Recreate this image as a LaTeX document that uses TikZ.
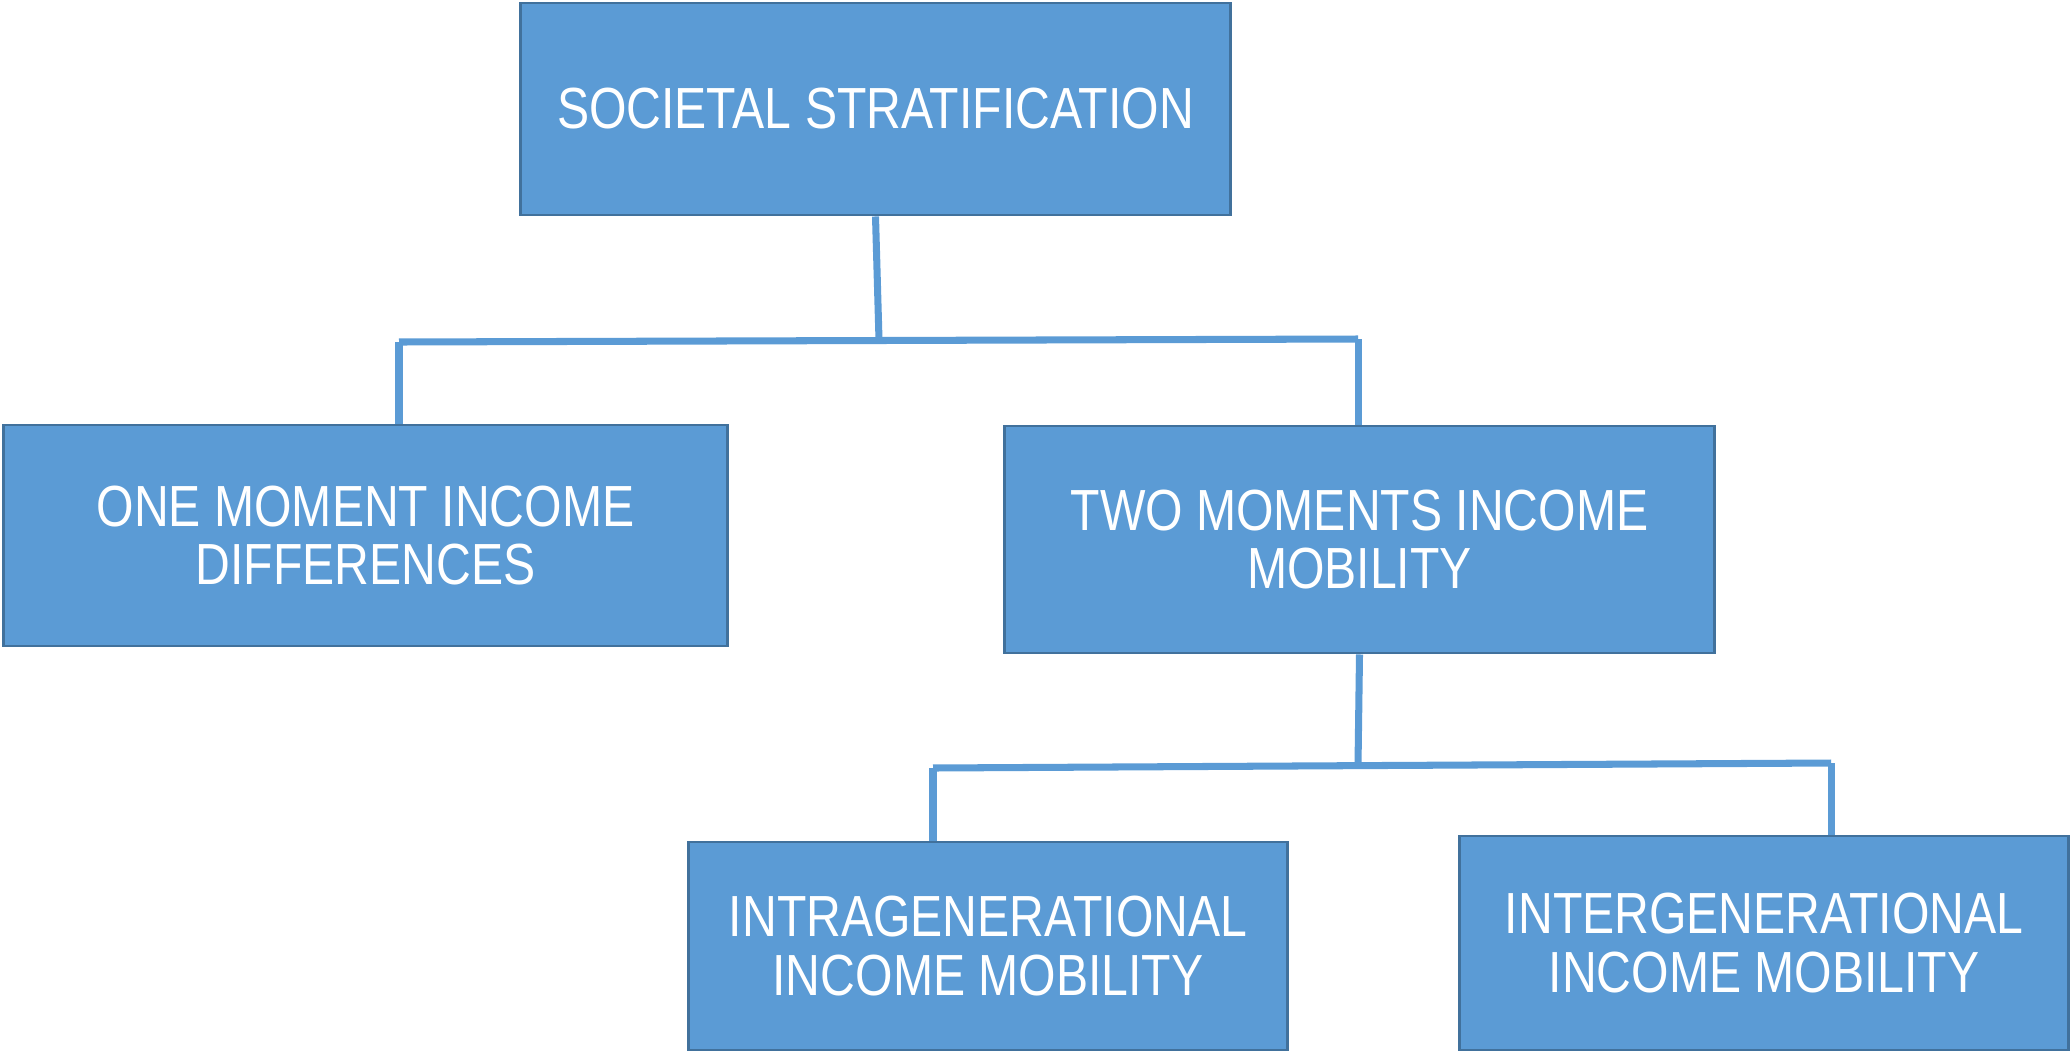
\documentclass[tikz,border=0pt]{standalone}
\usepackage{fontspec}
\setmainfont[FakeStretch=0.83]{Liberation Sans}
\definecolor{boxblue}{HTML}{5B9BD5}
\definecolor{boxedge}{HTML}{41719C}
\tikzset{
  level/.style={draw=boxedge, line width=0.8pt, fill=boxblue, text=white,
    align=center, inner sep=0pt, font=\fontsize{16.5}{16.5}\selectfont},
  link/.style={draw=boxblue, line width=2pt}
}
\begin{document}
\begin{tikzpicture}[x=0.01cm,y=-0.01cm]
\useasboundingbox (0,0) rectangle (2070,1051);

% boxes
\node[level, minimum width=7.09cm, minimum height=2.12cm] (strat) at (875.5,109) {SOCIETAL STRATIFICATION};
\node[level, minimum width=7.23cm, minimum height=2.21cm] (onemoment) at (365.5,535.5) {ONE MOMENT INCOME\\DIFFERENCES};
\node[level, minimum width=7.09cm, minimum height=2.27cm] (twomoments) at (1359.5,539.5) {TWO MOMENTS INCOME\\MOBILITY};
\node[level, minimum width=5.98cm, minimum height=2.08cm] (intra) at (988,946) {INTRAGENERATIONAL\\INCOME MOBILITY};
\node[level, minimum width=6.08cm, minimum height=2.14cm] (inter) at (1764,943) {INTERGENERATIONAL\\INCOME MOBILITY};

% first split
\coordinate (barA) at (399,342);
\coordinate (barB) at (1358,339);
\draw[link] (strat.south) -- (879,340);
\draw[link] (barA) -- (barB);
\draw[link] (barA) -- (barA |- onemoment.north);
\draw[link] (barB) -- (barB |- twomoments.north);

% second split
\coordinate (barC) at (933,768);
\coordinate (barD) at (1831,763);
\draw[link] (twomoments.south) -- (1358,765);
\draw[link] (barC) -- (barD);
\draw[link] (barC) -- (barC |- intra.north);
\draw[link] (barD) -- (barD |- inter.north);
\end{tikzpicture}
\end{document}
